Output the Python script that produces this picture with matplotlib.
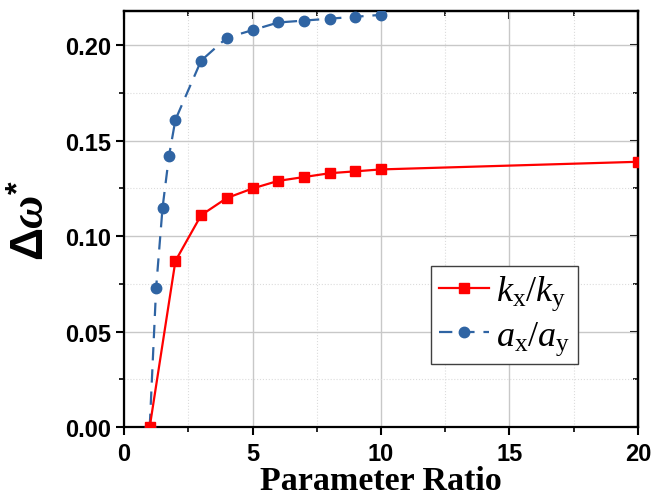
import matplotlib
matplotlib.use("Agg")
import matplotlib.pyplot as plt
from matplotlib.ticker import MultipleLocator

kx_ratio = [1, 2, 3, 4, 5, 6, 7, 8, 9, 10, 20]
kx_vals = [0.0, 0.087, 0.111, 0.120, 0.125, 0.129, 0.131, 0.133, 0.134, 0.135, 0.139]

ax_ratio = [1, 1.25, 1.5, 1.75, 2, 3, 4, 5, 6, 7, 8, 9, 10]
ax_vals = [0.0, 0.073, 0.115, 0.142, 0.161, 0.192, 0.204, 0.208, 0.212, 0.213, 0.214, 0.215, 0.216]

xticks = [0, 5, 10, 15, 20]
yticks = [0.00, 0.05, 0.10, 0.15, 0.20]

plt.rcParams['mathtext.fontset'] = 'custom'
plt.rcParams['mathtext.rm'] = 'Liberation Serif'
plt.rcParams['mathtext.it'] = 'Liberation Serif:italic'
plt.rcParams['mathtext.bf'] = 'Liberation Serif:bold'
plt.rcParams['mathtext.bfit'] = 'Liberation Serif:bold:italic'
plt.rcParams['mathtext.sf'] = 'Liberation Sans:bold'

fig = plt.figure(figsize=(6.51, 5.02), dpi=100)
ax = fig.add_axes([0.1905, 0.1474, 0.7895, 0.8286])

ax.plot(kx_ratio, kx_vals, color='#ff0000', marker='s', markersize=7, lw=1.6,
        label=r'$k_{\mathrm{x}}/k_{\mathrm{y}}$', zorder=4)
ax.plot(ax_ratio, ax_vals, color='#2f64a3', marker='o', markersize=7.5, lw=1.6,
        ls=(0, (6, 4)), label=r'$a_{\mathrm{x}}/a_{\mathrm{y}}$', zorder=3)

ax.set_xlim(0, 20)
ax.set_ylim(0, 0.218)
ax.set_xticks(xticks)
ax.set_yticks(yticks)
ax.xaxis.set_minor_locator(MultipleLocator(2.5))
ax.yaxis.set_minor_locator(MultipleLocator(0.025))
ax.grid(True, which='major', color='#c8c8c8', lw=1.0)
ax.grid(True, which='minor', color='#dcdcdc', lw=0.8, ls=':')
ax.set_axisbelow(True)

for s in ax.spines.values():
    s.set_linewidth(1.6)
    s.set_color('black')

ax.tick_params(axis='both', which='major', direction='out', length=6, width=1.5)
ax.tick_params(axis='both', which='minor', direction='out', length=3.5, width=1.2)
ax.tick_params(axis='x', pad=5)
ax.tick_params(axis='y', pad=3)

ax.set_xticklabels([str(v) for v in xticks], family='Liberation Sans', weight='bold', fontsize=17)
ax.set_yticklabels([f'{v:.2f}' for v in yticks], family='Liberation Sans', weight='bold', fontsize=17)

ax.set_xlabel('Parameter Ratio', family='Liberation Serif', weight='bold', fontsize=24.5, labelpad=0)
ax.set_ylabel(r'$\mathsf{\Delta}\boldsymbol{\omega}^{\mathsf{*}}$', fontsize=33, labelpad=8)

# right/top inward ticks
sec = ax.secondary_yaxis('right')
sec.set_yticks(yticks)
sec.yaxis.set_minor_locator(MultipleLocator(0.025))
sec.tick_params(which='major', direction='in', length=6, width=1.5, labelright=False)
sec.tick_params(which='minor', direction='in', length=3.5, width=1.2)
sec.spines['right'].set_linewidth(1.6)
sect = ax.secondary_xaxis('top')
sect.set_xticks(xticks)
sect.xaxis.set_minor_locator(MultipleLocator(2.5))
sect.tick_params(which='major', direction='in', length=6, width=1.5, labeltop=False)
sect.tick_params(which='minor', direction='in', length=3.5, width=1.2)
sect.spines['top'].set_linewidth(1.6)

leg = ax.legend(loc='upper right', bbox_to_anchor=(0.883, 0.387), fontsize=26,
                frameon=True, fancybox=False, edgecolor='#404040', framealpha=1,
                handlelength=1.4, handletextpad=0.2, borderpad=0.2, labelspacing=0.15,
                borderaxespad=0)
leg.get_frame().set_linewidth(1.0)

fig.savefig('out.png', dpi=100)
